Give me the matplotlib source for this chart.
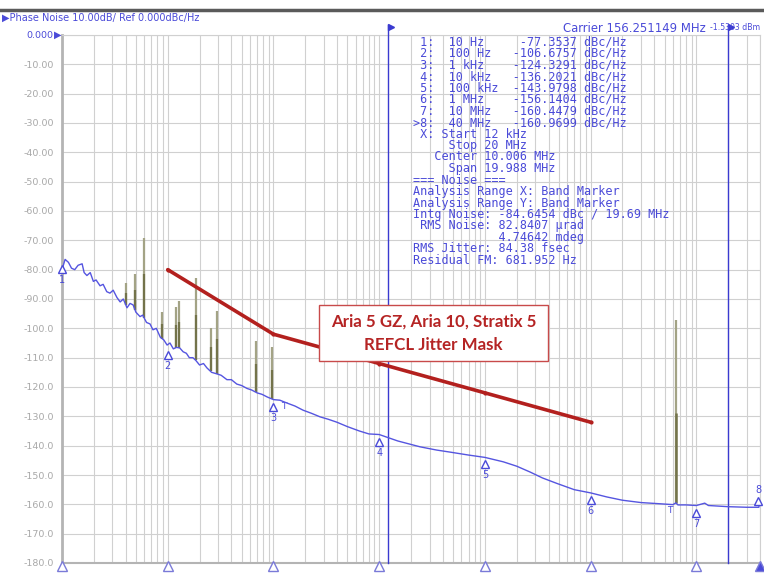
import matplotlib
matplotlib.use("Agg")
import matplotlib.pyplot as plt
import matplotlib.transforms as mtransforms
from matplotlib.lines import Line2D
from matplotlib.patches import Rectangle
import numpy as np

# phase noise trace (offset frequency in Hz, dBc/Hz)
trace_f = [10, 10.7, 11.5, 12.3, 13.2, 14.2, 15.5, 16.2, 17.2, 18.5, 19.8, 21.0, 22.9,
           24.5, 26.5, 28.4, 30.5, 33.1, 35.5, 38, 41.2, 44, 47, 50, 54.7, 58, 63, 68,
           72.5, 78, 85, 92, 98.6, 105, 113, 121, 130, 140, 150, 160, 173, 185, 200,
           218, 235, 260, 290, 320, 363, 400, 450, 500, 563, 620, 700, 780, 873, 1000,
           1150, 1350, 1600, 1905, 2300, 2770, 3300, 3980, 5000, 6500, 8000, 10000,
           15000, 24400, 35000, 46900, 70000, 100000, 149000, 200000, 268000, 350000,
           482000, 700000, 1.0e6, 1.43e6, 2.0e6, 3.0e6, 4.5e6, 6.0e6, 6.4e6, 6.7e6,
           8.0e6, 1.0e7, 1.2e7, 1.3e7, 2.0e7, 3.0e7, 3.9e7, 4.0e7]
trace_db = [-80, -76.5, -77.5, -79.5, -80, -78.5, -78, -81, -82, -81, -84, -83.5, -85.5,
            -85, -87.5, -88, -87, -89.5, -91, -90, -93, -91.5, -92, -94.5, -96, -95.5,
            -98, -98.5, -100.5, -100, -103, -104, -105.7, -105, -107, -106.5, -106.7,
            -108, -108.5, -110, -110, -111, -112.5, -112, -113.5, -115, -115.5, -116,
            -117.5, -117.5, -119, -119.5, -120.5, -121, -122, -122.5, -123.4, -124.3,
            -124.5, -125.5, -126.5, -127.9, -129, -130.2, -131, -132, -133.5, -135,
            -136, -136.2, -138.4, -140.4, -141.5, -142.2, -143.2, -144, -145.5, -147,
            -149, -151, -152.9, -155, -156.1, -157.5, -158.6, -159.4, -159.8, -160.1,
            -159.5, -160.2, -160.2, -160.4, -159.6, -160.4, -160.8, -161, -161, -158.5]

# spurs: frequency, top level
spur_f = [40, 49, 60, 89, 120, 127, 184, 255, 293, 684, 978]
spur_top = [-84.7, -81.6, -69.3, -94.5, -92.6, -90.7, -82.7, -99.8, -94.1, -104.3, -106.3]
big_spur_f = 6.46e6
big_spur_top = -97.2
big_spur_mid = -129

# markers
marker_f = [10, 100, 1e3, 1e4, 1e5, 1e6, 1e7, 4e7]
marker_db = [-77.3537, -106.6757, -124.3291, -136.2021, -143.9798, -156.1404, -160.4479, -160.9699]
marker_txt = ["10 Hz", "100 Hz", "1 kHz", "10 kHz", "100 kHz", "1 MHz", "10 MHz", "40 MHz"]

# jitter mask
mask_f = [100, 1000, 1e4, 1e5, 1e6]
mask_db = [-80, -102, -112, -122, -132]

band_start, band_stop = 12e3, 20e6

yticks = list(range(0, -190, -10))
ytick_labels = ["0.000", "-10.00", "-20.00", "-30.00", "-40.00", "-50.00", "-60.00",
                "-70.00", "-80.00", "-90.00", "-100.0", "-110.0", "-120.0", "-130.0",
                "-140.0", "-150.0", "-160.0", "-170.0", "-180.0"]

info_lines = [" X: Start 12 kHz",
              "     Stop 20 MHz",
              "   Center 10.006 MHz",
              "     Span 19.988 MHz",
              "=== Noise ===",
              "Analysis Range X: Band Marker",
              "Analysis Range Y: Band Marker",
              "Intg Noise: -84.6454 dBc / 19.69 MHz",
              " RMS Noise: 82.8407 \u00b5rad",
              "            4.74642 mdeg",
              "RMS Jitter: 84.38 fsec",
              "Residual FM: 681.952 Hz"]

BLUE = "#4a4ad8"
W, H = 764, 574
fig = plt.figure(figsize=(W / 100, H / 100), dpi=100)
ax = fig.add_axes([62 / W, 11 / H, 698 / W, 528 / H])


def px(x, y):
    return x / W, 1 - y / H


ax.set_xscale("log")
ax.set_xlim(10, 4e7)
ax.set_ylim(-180, 0)
ax.set_yticks(yticks)
ax.set_yticklabels(ytick_labels, fontsize=6.8, color="#a8a8a8")
ax.get_yticklabels()[0].set_color(BLUE)
ax.tick_params(which="both", length=0, labelbottom=False, pad=6)
ax.grid(which="both", color="#d0d0d0", lw=0.8)
ax.set_axisbelow(True)
for s in ["top", "right"]:
    ax.spines[s].set_color("#d0d0d0")
    ax.spines[s].set_linewidth(0.8)
ax.spines["left"].set_color("#b4b4b4")
ax.spines["left"].set_linewidth(2)
ax.spines["bottom"].set_color("#b4b4b4")
ax.spines["bottom"].set_linewidth(1.5)

# band marker lines
for f in [band_start, band_stop]:
    ax.axvline(f, ymax=1 + 10 / 528, color="#3a3ad0", lw=1, clip_on=False, zorder=3)
    ax.plot(f, 0, marker=">", ms=4, color="#3a3ad0", clip_on=False,
            transform=mtransforms.offset_copy(ax.transData, fig=fig, x=3, y=8, units="dots"))

# spurs
base = np.interp(np.log10(spur_f), np.log10(trace_f), trace_db)
mid = base + 0.55 * (np.array(spur_top) - base)
ax.vlines(spur_f, base, spur_top, color="#a3a385", lw=1.6, zorder=2)
ax.vlines(spur_f, base, mid, color="#73734a", lw=1.6, zorder=2)
big_base = np.interp(np.log10(big_spur_f), np.log10(trace_f), trace_db)
ax.vlines(big_spur_f, big_base, big_spur_top, color="#a3a385", lw=1.6, zorder=2)
ax.vlines(big_spur_f, big_base, big_spur_mid, color="#73734a", lw=1.8, zorder=2)

# trace
ax.plot(trace_f, trace_db, color="#5555e0", lw=1, zorder=4)

# markers
tri = mtransforms.offset_copy(ax.transData, fig=fig, x=0, y=-7, units="dots")
for i, (f, v) in enumerate(zip(marker_f, marker_db)):
    if i == 7:
        ax.plot(f, v, marker="^", ms=6, mfc="white", mec=BLUE, mew=1, clip_on=False,
                zorder=5, transform=mtransforms.offset_copy(ax.transData, fig=fig, x=-2, y=6, units="dots"))
        ax.annotate(str(i + 1), (f, v), xytext=(-2, 17), textcoords="offset pixels",
                    ha="center", va="center", fontsize=7, color=BLUE, annotation_clip=False)
    else:
        ax.plot(f, v, marker="^", ms=6, mfc="white", mec=BLUE, mew=1, clip_on=False,
                zorder=5, transform=tri)
        ax.annotate(str(i + 1), (f, v), xytext=(0, -18), textcoords="offset pixels",
                    ha="center", va="center", fontsize=7, color=BLUE, annotation_clip=False)

# small T markers
for f, v in [(1.25e3, -124.5), (5.6e6, -160.2)]:
    ax.annotate("T", (f, v), xytext=(0, -6), textcoords="offset pixels", ha="center",
                va="center", fontsize=6.5, color=BLUE)

# bottom axis icons
icon = mtransforms.offset_copy(ax.transData, fig=fig, x=0, y=-3, units="dots")
for f in marker_f:
    filled = f == marker_f[-1]
    ax.plot(f, -180, marker="^", ms=7, mfc=BLUE if filled else "white", mec="#7a7ad8",
            mew=1, clip_on=False, transform=icon, zorder=6)

# mask
ax.plot(mask_f, mask_db, color="#b3201e", lw=2.6, marker="o", ms=2, zorder=6,
        solid_capstyle="round")

# callout
fig.patches.append(Rectangle(px(319, 361), 229 / W, 56 / H, transform=fig.transFigure,
                             fc="white", ec="#c84a4a", lw=1, zorder=10))
fig.text(*px(433.5, 322), "Aria 5 GZ, Aria 10, Stratix 5", ha="center", va="center",
         fontsize=12.2, fontweight="bold", family="Lato", color="#b52424", zorder=11)
fig.text(*px(433.5, 345), "REFCL Jitter Mask", ha="center", va="center",
         fontsize=12.2, fontweight="bold", family="Lato", color="#b52424", zorder=11)

# table
for i, (f, v) in enumerate(zip(marker_txt, marker_db)):
    idx = ">8" if i == 7 else " %d" % (i + 1)
    line = "%s:  %-9s%9.4f dBc/Hz" % (idx, f, v)
    fig.text(*px(413, 42 + i * 11.5), line, family="DejaVu Sans Mono", fontsize=8.5,
             color=BLUE, va="center", ha="left", zorder=12)
for j, line in enumerate(info_lines):
    fig.text(*px(413, 42 + (j + 8) * 11.5), line, family="DejaVu Sans Mono", fontsize=8.5,
             color=BLUE, va="center", ha="left", zorder=12)

# headers
fig.add_artist(Line2D([0, 1], [1 - 9.5 / H] * 2, transform=fig.transFigure,
                      color="#5a5a5a", lw=2.5))
fig.text(*px(2, 18), "\u25b6Phase Noise 10.00dB/ Ref 0.000dBc/Hz", fontsize=7,
         color=BLUE, va="center", ha="left")
fig.text(*px(706, 28), "Carrier 156.251149 MHz", fontsize=8.4, color=BLUE,
         va="center", ha="right")
fig.text(*px(710, 28), "-1.5303 dBm", fontsize=5.6, color=BLUE, va="center", ha="left")
fig.text(*px(61, 35), "\u25b6", fontsize=7, color=BLUE, va="center", ha="right")

fig.savefig("out.png", dpi=100)
